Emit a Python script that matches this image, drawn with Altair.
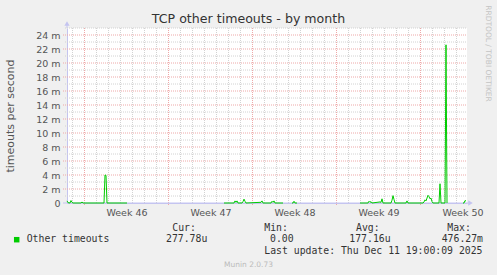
import altair as alt
import pandas as pd

# ---------------- data (hours since graph start, values in milli-timeouts/s) ----------------
hours_a = [0, 2, 6, 8, 10, 12, 28, 30, 32, 74, 76, 78, 80, 120]
vals_a = [0.3, 0.05, 0.0, 0.35, 0.1, 0.0, 0.0, 0.15, 0.0, 0.0, 4.0, 3.95, 0.0, 0.0]

hours_b = [314, 334, 336, 338, 340, 342, 350, 352, 354, 356, 358, 388, 390, 392,
           408, 410, 412, 414, 416, 432]
vals_b = [0.0, 0.0, 0.3, 0.1, 0.3, 0.0, 0.0, 0.2, 0.55, 0.25, 0.0, 0.1, 0.3, 0.0,
          0.0, 0.25, 0.1, 0.3, 0.0, 0.0]

hours_c = [450, 452, 454, 456, 460]
vals_c = [0.0, 0.0, 0.25, 0.0, 0.0]

hours_d = [586, 602, 604, 606, 608, 610, 626, 628, 630, 632, 648, 650, 652, 654, 656,
           678, 680, 682, 712, 714, 716, 718, 720, 722, 724, 726, 728, 730, 732,
           744, 746, 748, 756, 758, 760]
vals_d = [0.0, 0.0, 0.25, 0.1, 0.2, 0.0, 0.15, 0.1, 0.6, 0.0, 0.0, 0.4, 1.05, 0.5, 0.0,
          0.0, 0.3, 0.0, 0.0, 0.15, 0.45, 0.3, 0.7, 1.1, 0.9, 0.6, 0.7, 0.2, 0.0,
          0.0, 2.75, 0.0, 0.0, 22.6, 0.0]

hours_e = [792, 794, 796, 798]
vals_e = [0.0, 0.0, 0.35, 0.28]

week_line_hours = [35, 203, 371, 539, 707]
week_label_hours = [119, 287, 455, 623, 791]
week_labels = ["Week 46", "Week 47", "Week 48", "Week 49", "Week 50"]
day_line_hours = [h for h in range(11, 800, 24) if h not in week_line_hours]

y_major = list(range(0, 25, 2))
y_major_grid = list(range(2, 25, 2))
y_minor_grid = list(range(1, 26, 2))

title_text = "TCP other timeouts - by month"
y_title = "timeouts per second"
series_name = "Other timeouts"
stat_heads = ["Cur:", "Min:", "Avg:", "Max:"]
stat_vals = ["277.78u", "0.00", "177.16u", "476.27m"]
last_update = "Last update: Thu Dec 11 19:00:09 2025"
footer = "Munin 2.0.73"
watermark = "RRDTOOL / TOBI OETIKER"

# ---------------- tables ----------------
rows = []
for seg, (hs, vs) in enumerate([(hours_a, vals_a), (hours_b, vals_b), (hours_c, vals_c),
                                (hours_d, vals_d), (hours_e, vals_e)]):
    for h, v in zip(hs, vs):
        rows.append({"hour": h, "value": v, "seg": seg})
df = pd.DataFrame(rows)

# ---------------- styles ----------------
FONT = "DejaVu Sans"
MONO = "DejaVu Sans Mono"
GREEN = "#00cc00"
AXIS_C = "#c4c4f0"
MAJOR_C = "#eea8a8"
MINOR_C = "#d2d2d2"
TEXT_C = "#555555"

XS = alt.Scale(domain=[0, 800], nice=False, zero=False)
YS = alt.Scale(domain=[0, 25], nice=False)

label_arr = "[" + ",".join("'%s'" % s for s in week_labels) + "]"
pos_arr = "[" + ",".join(str(h) for h in week_label_hours) + "]"

X_AXIS = alt.Axis(values=week_label_hours,
                  labelExpr=label_arr + "[indexof(" + pos_arr + ", datum.value)]",
                  grid=False, ticks=False, domain=True, domainColor=AXIS_C,
                  labelFlush=False, labelOverlap=False, labelPadding=4,
                  labelFont=FONT, labelFontSize=9.5, labelColor=TEXT_C, title="")
Y_AXIS = alt.Axis(values=y_major,
                  labelExpr="datum.value == 0 ? '0' : datum.value + ' m'",
                  grid=False, ticks=False, domain=True, domainColor=AXIS_C,
                  labelPadding=7, labelFont=FONT, labelFontSize=9.5,
                  labelColor=TEXT_C, labelOverlap=False, labelFlush=False,
                  title=y_title, titleFont=FONT, titleFontSize=11,
                  titleFontWeight="normal", titleColor=TEXT_C,
                  titleX=-57, titleY=87.5, titleAlign="center",
                  titleBaseline="middle", titleAngle=270)

minor_v = alt.Chart(pd.DataFrame({"hour": day_line_hours})).mark_rule(
    color=MINOR_C, strokeDash=[1, 1], strokeWidth=1
).encode(x=alt.X("hour:Q", scale=XS, axis=X_AXIS), y=alt.value(0), y2=alt.value(175))

major_v = alt.Chart(pd.DataFrame({"hour": week_line_hours})).mark_rule(
    color=MAJOR_C, strokeDash=[1, 1], strokeWidth=1
).encode(x=alt.X("hour:Q", scale=XS, axis=X_AXIS), y=alt.value(0), y2=alt.value(178))

minor_h = alt.Chart(pd.DataFrame({"value": y_minor_grid})).mark_rule(
    color=MINOR_C, strokeDash=[1, 1], strokeWidth=1
).encode(y=alt.Y("value:Q", scale=YS, axis=Y_AXIS), x=alt.value(-2), x2=alt.value(400))

major_h = alt.Chart(pd.DataFrame({"value": y_major_grid})).mark_rule(
    color=MAJOR_C, strokeDash=[1, 1], strokeWidth=1
).encode(y=alt.Y("value:Q", scale=YS, axis=Y_AXIS), x=alt.value(-4), x2=alt.value(400))

line = alt.Chart(df).mark_line(color=GREEN, strokeWidth=1, interpolate="linear").encode(
    x=alt.X("hour:Q", scale=XS, axis=X_AXIS),
    y=alt.Y("value:Q", scale=YS, axis=Y_AXIS),
    detail="seg:N",
)

# axis extensions and arrows
y_ext = alt.Chart(pd.DataFrame({"a": [0]})).mark_rule(color=AXIS_C).encode(
    x=alt.value(0), y=alt.value(-4), y2=alt.value(0))
x_ext = alt.Chart(pd.DataFrame({"a": [0]})).mark_rule(color=AXIS_C).encode(
    x=alt.value(-4), x2=alt.value(404), y=alt.value(175))
y_arrow = alt.Chart(pd.DataFrame({"a": [0]})).mark_point(
    shape="triangle-up", filled=True, color=AXIS_C, size=28, opacity=1).encode(
    x=alt.value(0), y=alt.value(-4.5))
x_arrow = alt.Chart(pd.DataFrame({"a": [0]})).mark_point(
    shape="triangle-right", filled=True, color=AXIS_C, size=28, opacity=1).encode(
    x=alt.value(403.5), y=alt.value(175))


def txt(s, x, y, font=MONO, size=9.8, color="#333333", align="left", angle=0,
        baseline="alphabetic"):
    return alt.Chart(pd.DataFrame({"a": [0]})).mark_text(
        font=font, fontSize=size, color=color, align=align, angle=angle,
        baseline=baseline).encode(x=alt.value(x), y=alt.value(y), text=alt.value(s))


legend_sq = alt.Chart(pd.DataFrame({"a": [0]})).mark_square(
    color=GREEN, size=30, opacity=1, filled=True).encode(
    x=alt.value(-50.3), y=alt.value(211.7))

head_x = [105.3, 197.3, 289, 380.3]
val_x = [99, 203, 282.3, 374.7]
texts = [txt(title_text, 181.5, -5, font=FONT, size=12.6, color="#333333", align="center"),
         txt(series_name, -40.3, 214)]
for s, x in zip(stat_heads, head_x):
    texts.append(txt(s, x, 202.6))
for s, x in zip(stat_vals, val_x):
    texts.append(txt(s, x, 214))
texts.append(txt(last_update, 415.5, 226.2, align="right"))
texts.append(txt(footer, 181.5, 239, font=FONT, size=7.5, color="#bbbbbb", align="center"))
texts.append(txt(watermark, 421, 25.5, font=FONT, size=7.5, color="#c4c4c4",
                 align="center", angle=90, baseline="middle"))

chart = alt.layer(
    minor_v, minor_h, major_v, major_h, y_ext, x_ext, line, y_arrow, x_arrow,
    legend_sq, *texts
).properties(
    width=400, height=175,
    padding={"left": 67, "top": 28, "right": 30, "bottom": 72},
    autosize=alt.AutoSizeParams(type="none"),
    background="#f0f0f0",
).configure_view(strokeWidth=0, fill="white")

chart.save("out.html", embed_options={"renderer": "svg", "actions": False})
